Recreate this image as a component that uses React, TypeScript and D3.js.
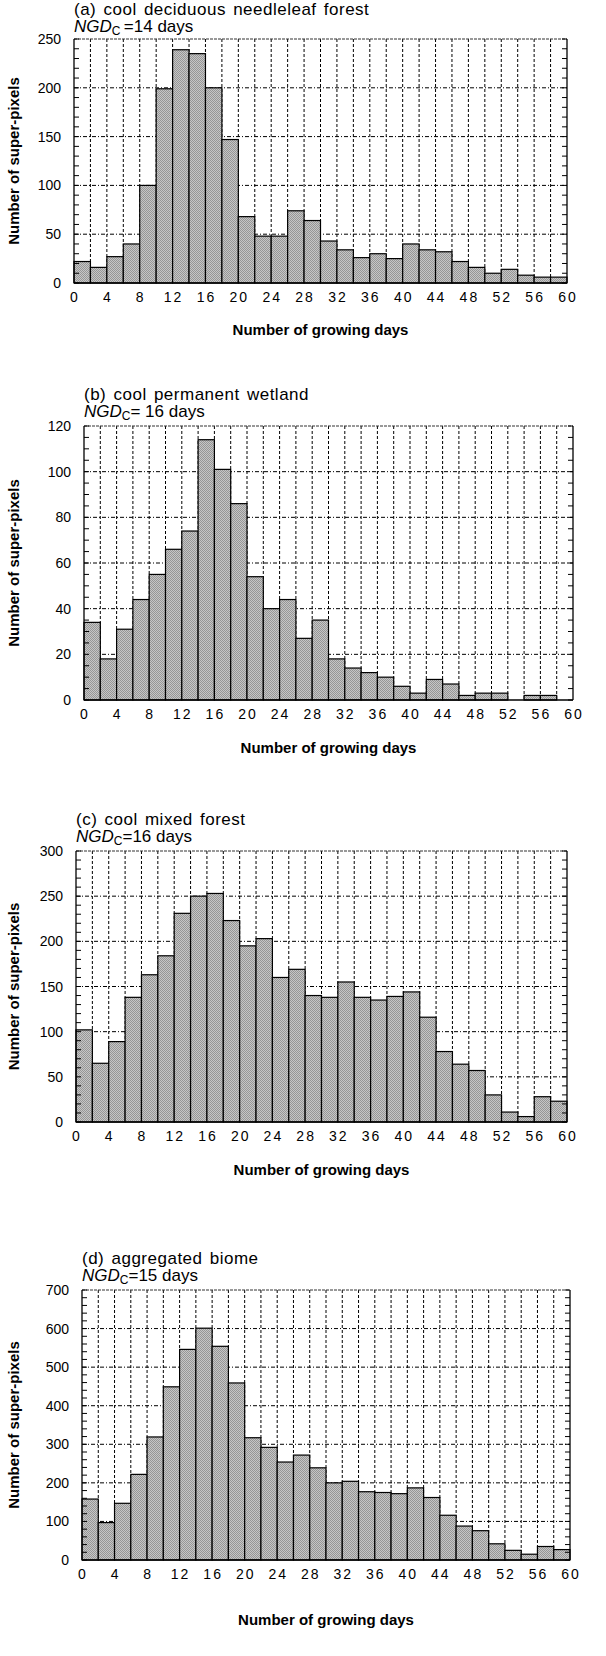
import React from "react";
import * as d3 from "d3";

// bin starts (days), 2-day bins from 0 to 58
const binStarts = d3.range(0, 60, 2);
const xTickLabels = [0, 4, 8, 12, 16, 20, 24, 28, 32, 36, 40, 44, 48, 52, 56, 60];

const titles = [
  "(a) cool deciduous needleleaf forest",
  "(b) cool permanent wetland",
  "(c) cool mixed forest",
  "(d) aggregated biome",
];
const ngdRest = ["\u2009=14 days", "= 16 days", "=16 days", "=15 days"];

const countsA = [22, 16, 27, 40, 100, 199, 239, 235, 200, 147, 68, 48, 48, 74, 64, 43, 34, 26, 30, 25, 40, 34, 32, 22, 16, 10, 14, 8, 6, 6];
const countsB = [34, 18, 31, 44, 55, 66, 74, 114, 101, 86, 54, 40, 44, 27, 35, 18, 14, 12, 10, 6, 3, 9, 7, 2, 3, 3, 0, 2, 2, 0];
const countsC = [102, 65, 89, 138, 163, 184, 231, 250, 253, 223, 195, 203, 160, 169, 140, 138, 155, 138, 135, 139, 144, 116, 78, 64, 57, 30, 11, 6, 28, 23];
const countsD = [158, 97, 147, 222, 319, 449, 546, 601, 554, 459, 317, 292, 254, 272, 239, 200, 204, 177, 175, 172, 187, 162, 116, 88, 76, 42, 25, 15, 35, 27];

const yMaxes = [250, 120, 300, 700];
const yMajor = [50, 20, 50, 100];
const yMinor = [10, 5, 10, 20];

// plot boxes in page pixels, plus title / subtitle baseline offsets above the box
const layout = [
  { left: 74, right: 567, top: 39, bottom: 283, xTitle: 52, t1: 24, t2: 7 },
  { left: 84, right: 573, top: 426, bottom: 700, xTitle: 53, t1: 26, t2: 9 },
  { left: 76, right: 567, top: 851, bottom: 1122, xTitle: 53, t1: 26, t2: 9 },
  { left: 82, right: 570, top: 1290, bottom: 1560, xTitle: 65, t1: 26, t2: 9 },
];

const FONT = "'Liberation Sans', Arial, Helvetica, sans-serif";

function Panel({ i, counts }: { i: number; counts: number[] }) {
  const { left, right, top, bottom, xTitle, t1, t2 } = layout[i];
  const x = d3.scaleLinear().domain([0, 60]).range([left, right]);
  const y = d3.scaleLinear().domain([0, yMaxes[i]]).range([bottom, top]);
  const majors = d3.range(0, yMaxes[i] + 0.001, yMajor[i]);
  const minors = d3.range(0, yMaxes[i] + 0.001, yMinor[i]);
  const vLines = d3.range(2, 60, 2);
  const midY = (top + bottom) / 2;

  return (
    <g fontFamily={FONT}>
      {/* grid */}
      {majors.slice(1, -1).map((v) => (
        <line key={"h" + v} x1={left} x2={right} y1={y(v)} y2={y(v)}
          stroke="#000" strokeWidth={1} strokeDasharray="4,2,1,2" />
      ))}
      {vLines.map((v) => (
        <line key={"v" + v} x1={x(v)} x2={x(v)} y1={top} y2={bottom}
          stroke="#000" strokeWidth={1} strokeDasharray="3,2" />
      ))}
      <line x1={left} x2={right} y1={top} y2={top} stroke="#333" strokeWidth={1} strokeDasharray="3,1" />

      {/* bars */}
      {counts.map((c, k) =>
        c > 0 ? (
          <rect key={"b" + k} x={x(binStarts[k])} y={y(c)}
            width={x(binStarts[k] + 2) - x(binStarts[k])} height={y(0) - y(c)}
            fill="url(#stipple)" stroke="#000" strokeWidth={1.2} />
        ) : null
      )}

      {/* frame */}
      <line x1={left} x2={left} y1={top} y2={bottom} stroke="#000" strokeWidth={1.3} />
      <line x1={right} x2={right} y1={top} y2={bottom} stroke="#000" strokeWidth={1.3} />
      <line x1={left} x2={right} y1={bottom} y2={bottom} stroke="#000" strokeWidth={1.3} />
      {minors.map((v) => (
        <g key={"t" + v}>
          <line x1={left} x2={left + 5} y1={y(v)} y2={y(v)} stroke="#000" strokeWidth={1} />
          <line x1={right - 5} x2={right} y1={y(v)} y2={y(v)} stroke="#000" strokeWidth={1} />
        </g>
      ))}

      {/* y tick labels */}
      {majors.map((v) => (
        <text key={"yl" + v} x={left - 13} y={y(v)} dy="0.36em" textAnchor="end" fontSize={14}>
          {v}
        </text>
      ))}
      {/* x tick labels */}
      {xTickLabels.map((v) => (
        <text key={"xl" + v} x={x(v) + 1} y={bottom + 19} textAnchor="middle" fontSize={14} letterSpacing={2}>
          {v}
        </text>
      ))}

      {/* axis titles */}
      <text transform={`translate(19,${midY}) rotate(-90)`} textAnchor="middle" fontSize={15} fontWeight="bold">
        Number of super-pixels
      </text>
      <text x={(left + right) / 2} y={bottom + xTitle} textAnchor="middle" fontSize={15} fontWeight="bold">
        Number of growing days
      </text>

      {/* panel title */}
      <text x={left} y={top - t1} fontSize={17} letterSpacing={0.5} wordSpacing={2}>
        {titles[i]}
      </text>
      <text x={left} y={top - t2} fontSize={17}>
        <tspan fontStyle="italic">NGD</tspan>
        <tspan fontSize={12} dy={3}>C</tspan>
        <tspan dy={-3}>{ngdRest[i]}</tspan>
      </text>
    </g>
  );
}

export default function App() {
  const all = [countsA, countsB, countsC, countsD];
  return (
    <svg width={606} height={1656} style={{ position: "absolute", left: 0, top: 0, background: "#fff" }}>
      <defs>
        <pattern id="stipple" width={2} height={2} patternUnits="userSpaceOnUse">
          <rect width={2} height={2} fill="#c6c6c6" />
          <rect width={1} height={1} fill="#969696" />
          <rect x={1} y={1} width={1} height={1} fill="#969696" />
        </pattern>
      </defs>
      <rect width={606} height={1656} fill="#fff" />
      {all.map((c, i) => (
        <Panel key={i} i={i} counts={c} />
      ))}
    </svg>
  );
}
